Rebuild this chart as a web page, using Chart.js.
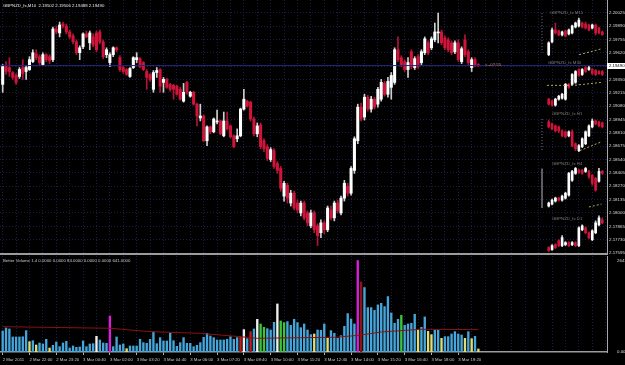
<!DOCTYPE html>
<html>
<head>
<meta charset="utf-8">
<script src="https://cdn.jsdelivr.net/npm/chart.js@4.4.0/dist/chart.umd.min.js"></script>
<style>
html, body { margin: 0; padding: 0; background: #000; }
#wrap { position: relative; width: 625px; height: 365px; overflow: hidden; background: #000; }
canvas { position: absolute; left: 0; }
.t { position: absolute; white-space: nowrap; font: 8.6px "Liberation Sans", Arial, sans-serif; line-height: 10px;
     transform: scale(.5); transform-origin: 0 0; }
.mini { color: #7c7c7c; }
</style>
</head>
<body>
<div id="wrap">
  <canvas id="main" width="625" height="256" style="top:0"></canvas>
  <canvas id="vol" width="625" height="110" style="top:255px"></canvas>

  <div class="t" style="left:3px;top:2.5px;color:#e8e8e8">GBPNZD_fx,M10&nbsp; 2.19502 2.19506 2.19488 2.19490</div>
  <div class="t" style="left:3px;top:257.5px;color:#c8c8c8">Better Volume 1.4 0.0000 0.0000 84.0000 0.0000 0.0000 641.0000</div>

  <div class="t mini" style="left:550px;top:9.5px">GBPNZD_fx M15</div>
  <div class="t mini" style="left:548px;top:59.5px">GBPNZD_fx M30</div>
  <div class="t mini" style="left:552px;top:110.5px">GBPNZD_fx H1</div>
  <div class="t mini" style="left:552px;top:160.5px">GBPNZD_fx H4</div>
  <div class="t mini" style="left:552px;top:215.5px">GBPNZD_fx D1</div>

  <div class="t" style="left:485px;top:61.5px;color:#d8894a">&lt;--07:55</div>
  <div style="position:absolute;left:607px;top:63px;width:18px;height:5.5px;background:#fff"></div>
  <div class="t" style="left:609px;top:63px;color:#000">2.19490</div>
</div>

<script>
// time axis labels, one every 8 bars (M10)
const timeLabels = ['2 Mar 2011', '2 Mar 22:00', '2 Mar 23:20', '3 Mar 00:40', '3 Mar 02:00', '3 Mar 03:20',
    '3 Mar 04:40', '3 Mar 06:00', '3 Mar 07:20', '3 Mar 08:40', '3 Mar 10:00', '3 Mar 11:20',
    '3 Mar 12:40', '3 Mar 14:00', '3 Mar 15:20', '3 Mar 16:40', '3 Mar 18:00', '3 Mar 19:20'];

const priceTicks = [2.20025, 2.19890, 2.19755, 2.19620, 2.19485, 2.19350, 2.19215, 2.19080, 2.18945,
    2.18810, 2.18675, 2.18540, 2.18405, 2.18270, 2.18135, 2.18000, 2.17865, 2.17730, 2.17595];
const volTicks = [0, 2641];
const bidPrice = 2.19490;

// M10 candles: [open, high, low, close]
const m10 = [
  [2.1930,2.1950,2.1922,2.1948],[2.1949,2.1953,2.1940,2.1943],[2.1947,2.1957,2.1938,2.1943],[2.1942,2.1943,2.1935,2.1937],
  [2.1939,2.1941,2.1930,2.1932],[2.1938,2.1947,2.1936,2.1945],[2.1947,2.1955,2.1935,2.1941],[2.1943,2.1949,2.1935,2.1947],
  [2.1945,2.1958,2.1944,2.1955],[2.1953,2.1965,2.1952,2.1962],[2.1961,2.1965,2.1955,2.1957],[2.1958,2.1960,2.1950,2.1952],
  [2.1950,2.1962,2.1949,2.1960],[2.1960,2.1961,2.1953,2.1955],[2.1958,2.1960,2.1951,2.1954],[2.1955,2.1988,2.1953,2.1986],
  [2.1986,2.1989,2.1981,2.1983],[2.1982,2.1993,2.1978,2.1990],[2.1991,2.1993,2.1987,2.1989],[2.1989,2.1991,2.1981,2.1983],
  [2.1983,2.1985,2.1976,2.1978],[2.1979,2.1981,2.1971,2.1973],[2.1973,2.1975,2.1960,2.1962],[2.1962,2.1969,2.1955,2.1967],
  [2.1968,2.1982,2.1966,2.1981],[2.1981,2.1984,2.1977,2.1978],[2.1972,2.1984,2.1965,2.1982],[2.1978,2.1981,2.1968,2.1970],
  [2.1982,2.1984,2.1963,2.1965],[2.1983,2.1985,2.1971,2.1973],[2.1973,2.1975,2.1956,2.1958],[2.1960,2.1967,2.1957,2.1965],
  [2.1952,2.1962,2.1948,2.1960],[2.1960,2.1968,2.1958,2.1967],[2.1967,2.1968,2.1963,2.1965],[2.1957,2.1959,2.1943,2.1945],
  [2.1947,2.1949,2.1941,2.1943],[2.1945,2.1946,2.1939,2.1940],[2.1938,2.1947,2.1937,2.1946],[2.1947,2.1958,2.1946,2.1957],
  [2.1955,2.1962,2.1952,2.1957],[2.1956,2.1957,2.1947,2.1948],[2.1952,2.1953,2.1944,2.1945],[2.1943,2.1945,2.1925,2.1937],
  [2.1940,2.1941,2.1933,2.1935],[2.1925,2.1944,2.1922,2.1942],[2.1942,2.1947,2.1937,2.1944],[2.1945,2.1946,2.1922,2.1928],
  [2.1932,2.1937,2.1922,2.1935],[2.1935,2.1936,2.1926,2.1927],[2.1930,2.1931,2.1923,2.1925],[2.1929,2.1930,2.1915,2.1925],
  [2.1928,2.1929,2.1919,2.1920],[2.1925,2.1927,2.1914,2.1915],[2.1913,2.1931,2.1912,2.1922],[2.1932,2.1933,2.1920,2.1922],
  [2.1918,2.1923,2.1917,2.1922],[2.1922,2.1923,2.1909,2.1910],[2.1910,2.1911,2.1888,2.1898],[2.1896,2.1910,2.1893,2.1898],
  [2.1898,2.1899,2.1872,2.1873],[2.1873,2.1888,2.1868,2.1887],[2.1887,2.1888,2.1880,2.1882],[2.1882,2.1896,2.1881,2.1895],
  [2.1892,2.1904,2.1890,2.1893],[2.1893,2.1894,2.1879,2.1880],[2.1878,2.1902,2.1877,2.1893],[2.1893,2.1902,2.1884,2.1885],
  [2.1888,2.1889,2.1876,2.1877],[2.1878,2.1879,2.1866,2.1867],[2.1875,2.1885,2.1872,2.1878],[2.1878,2.1906,2.1877,2.1905],
  [2.1905,2.1925,2.1904,2.1915],[2.1913,2.1914,2.1907,2.1908],[2.1912,2.1913,2.1893,2.1895],[2.1895,2.1897,2.1878,2.1880],
  [2.1880,2.1891,2.1877,2.1888],[2.1889,2.1891,2.1865,2.1867],[2.1873,2.1875,2.1862,2.1865],[2.1867,2.1869,2.1853,2.1855],
  [2.1854,2.1866,2.1852,2.1864],[2.1863,2.1865,2.1845,2.1847],[2.1850,2.1852,2.1840,2.1843],[2.1845,2.1847,2.1822,2.1825],
  [2.1817,2.1832,2.1812,2.1830],[2.1828,2.1830,2.1810,2.1815],[2.1810,2.1823,2.1807,2.1820],[2.1820,2.1822,2.1803,2.1805],
  [2.1810,2.1813,2.1800,2.1803],[2.1800,2.1812,2.1797,2.1810],[2.1810,2.1812,2.1793,2.1795],[2.1800,2.1802,2.1787,2.1790],
  [2.1787,2.1803,2.1785,2.1800],[2.1800,2.1802,2.1780,2.1783],[2.1787,2.1789,2.1767,2.1777],[2.1780,2.1793,2.1775,2.1790],
  [2.1790,2.1792,2.1779,2.1783],[2.1783,2.1807,2.1781,2.1805],[2.1803,2.1807,2.1793,2.1795],[2.1795,2.1812,2.1792,2.1810],
  [2.1810,2.1813,2.1800,2.1802],[2.1800,2.1817,2.1798,2.1815],[2.1815,2.1833,2.1812,2.1830],[2.1827,2.1830,2.1817,2.1820],
  [2.1820,2.1847,2.1818,2.1845],[2.1843,2.1877,2.1840,2.1875],[2.1873,2.1910,2.1870,2.1907],[2.1907,2.1911,2.1893,2.1895],
  [2.1897,2.1920,2.1894,2.1917],[2.1917,2.1919,2.1903,2.1905],[2.1905,2.1918,2.1902,2.1915],[2.1915,2.1917,2.1905,2.1907],
  [2.1910,2.1927,2.1907,2.1925],[2.1915,2.1935,2.1913,2.1932],[2.1931,2.1933,2.1918,2.1920],[2.1920,2.1937,2.1917,2.1933],
  [2.1927,2.1942,2.1915,2.1939],[2.1932,2.1967,2.1930,2.1965],[2.1965,2.1978,2.1953,2.1955],[2.1957,2.1959,2.1948,2.1950],
  [2.1953,2.1955,2.1943,2.1945],[2.1945,2.1957,2.1937,2.1952],[2.1963,2.1965,2.1946,2.1948],[2.1947,2.1958,2.1945,2.1956],
  [2.1958,2.1960,2.1946,2.1948],[2.1952,2.1965,2.1950,2.1963],[2.1962,2.1978,2.1960,2.1976],[2.1972,2.1974,2.1960,2.1962],
  [2.1967,2.1978,2.1965,2.1976],[2.1975,2.1992,2.1973,2.1983],[2.1982,2.2002,2.1972,2.1983],[2.1983,2.1985,2.1970,2.1972],
  [2.1977,2.1979,2.1965,2.1967],[2.1975,2.1977,2.1963,2.1965],[2.1972,2.1974,2.1960,2.1962],[2.1963,2.1974,2.1961,2.1972],
  [2.1972,2.1975,2.1953,2.1955],[2.1953,2.1968,2.1951,2.1966],[2.1975,2.1980,2.1958,2.1960],[2.1963,2.1965,2.1950,2.1952],
  [2.1947,2.1957,2.1943,2.1955],[2.1955,2.1957,2.1948,2.1950],[2.1950,2.1951,2.1948,2.1949]
];

// Better Volume bars and their colour class
const volume = [
  607,694,665,434,434,434,440,616,298,327, 202,260,231,366,115,193,289,154,260,308,
  115,174,135,145,318,154,231,241,453,347, 260,250,1040,154,434,202,231,96,174,174,
  174,366,270,250,366,578,241,414,318,318, 549,327,164,270,414,250,250,154,193,270,
  424,540,462,414,347,347,347,366,443,366, 414,434,646,385,588,665,944,809,713,674,
  636,857,1387,896,848,877,771,944,848,703, 809,636,501,520,636,626,809,395,617,539,
  395,472,742,1108,954,809,2641,2023,1860,1281, 1281,1204,1358,1406,1310,1600,1127,829,944,1060,
  771,809,829,1089,636,713,1012,597,501,626, 626,395,443,443,520,588,520,491,395,588,
  385,453,87
];
const volKind = ('bbbbbbbbyb' + 'ybbbybbbbb' + 'bbbbbbbbwb' + 'bbmbbbbybb' + 'bbbbbbbbbb' +
                 'bbbbbbbbbb' + 'bbbbbbbbbb' + 'brwbrbwggb' + 'bbwggbbbbb' + 'bbbybbbybb' +
                 'bbbbbbmdbb' + 'bbbbbbbbbg' + 'bbbbybbyyb' + 'bybbbbbbyb' + 'yby').split('');
const volAvgIdx = [0, 32, 44, 59, 73, 76, 89, 99, 104, 107, 113, 125, 142];
const volAvgVal = [731, 685, 587, 539, 425, 395, 414, 424, 462, 491, 578, 655, 645];

// higher timeframe panels on the right (drawn on the main price scale)
const miniStart = 163;
const m15 = [
  [2.1960,2.1973,2.1959,2.1972],[2.1973,2.1987,2.1972,2.1985],[2.1985,2.1992,2.1981,2.1982],[2.1984,2.1985,2.1979,2.1980],
  [2.1980,2.1984,2.1979,2.1983],[2.1984,2.1985,2.1978,2.1979],[2.1981,2.1986,2.1980,2.1985],[2.1982,2.1990,2.1981,2.1989],
  [2.1988,2.1993,2.1987,2.1992],[2.1989,2.1997,2.1988,2.1995],[2.1992,2.1993,2.1987,2.1988],[2.1991,2.1993,2.1986,2.1987],
  [2.1990,2.1991,2.1984,2.1985],[2.1987,2.1991,2.1986,2.1990],[2.1990,2.1991,2.1980,2.1982],[2.1987,2.1988,2.1981,2.1982],
  [2.1983,2.1984,2.1980,2.1980]
];
const m30 = [
  [2.1915,2.1916,2.1909,2.1910],[2.1913,2.1914,2.1908,2.1909],[2.1909,2.1916,2.1908,2.1915],[2.1915,2.1919,2.1914,2.1918],
  [2.1916,2.1921,2.1915,2.1920],[2.1915,2.1931,2.1914,2.1930],[2.1930,2.1931,2.1926,2.1927],[2.1930,2.1941,2.1929,2.1940],
  [2.1932,2.1944,2.1931,2.1943],[2.1945,2.1946,2.1938,2.1939],[2.1940,2.1946,2.1939,2.1945],[2.1947,2.1948,2.1942,2.1943],
  [2.1945,2.1949,2.1944,2.1947],[2.1945,2.1946,2.1940,2.1941],[2.1944,2.1945,2.1939,2.1940],[2.1943,2.1944,2.1940,2.1941],
  [2.1943,2.1944,2.1939,2.1940]
];
const h1 = [
  [2.1892,2.1894,2.1886,2.1887],[2.1890,2.1891,2.1884,2.1885],[2.1888,2.1889,2.1882,2.1883],[2.1887,2.1888,2.1881,2.1883],
  [2.1883,2.1884,2.1877,2.1878],[2.1882,2.1883,2.1876,2.1877],[2.1878,2.1883,2.1877,2.1882],[2.1882,2.1884,2.1867,2.1868],
  [2.1870,2.1871,2.1863,2.1865],[2.1863,2.1869,2.1862,2.1868],[2.1867,2.1876,2.1866,2.1875],[2.1870,2.1883,2.1869,2.1882],
  [2.1878,2.1889,2.1877,2.1888],[2.1887,2.1895,2.1886,2.1893],[2.1893,2.1894,2.1889,2.1890],[2.1892,2.1893,2.1887,2.1888],
  [2.1891,2.1892,2.1886,2.1887]
];
const h4 = [
  [2.1807,2.1811,2.1806,2.1810],[2.1809,2.1814,2.1808,2.1813],[2.1812,2.1816,2.1811,2.1815],[2.1815,2.1816,2.1812,2.1813],
  [2.1813,2.1818,2.1812,2.1817],[2.1815,2.1821,2.1814,2.1820],[2.1818,2.1841,2.1817,2.1840],[2.1833,2.1843,2.1832,2.1842],
  [2.1840,2.1846,2.1839,2.1845],[2.1843,2.1844,2.1840,2.1841],[2.1843,2.1844,2.1839,2.1840],[2.1842,2.1846,2.1841,2.1845],
  [2.1842,2.1843,2.1835,2.1837],[2.1838,2.1839,2.1828,2.1830],[2.1835,2.1836,2.1822,2.1823],[2.1832,2.1845,2.1831,2.1842],
  [2.1842,2.1843,2.1839,2.1840]
];
const d1 = [
  [2.1765,2.1766,2.1761,2.1762],[2.1763,2.1768,2.1762,2.1767],[2.1768,2.1769,2.1764,2.1765],[2.1772,2.1773,2.1766,2.1767],
  [2.1767,2.1777,2.1766,2.1775],[2.1768,2.1771,2.1767,2.1770],[2.1770,2.1771,2.1766,2.1767],[2.1768,2.1771,2.1767,2.1770],
  [2.1770,2.1771,2.1766,2.1767],[2.1767,2.1786,2.1766,2.1785],[2.1783,2.1788,2.1782,2.1787],[2.1785,2.1786,2.1779,2.1780],
  [2.1780,2.1781,2.1774,2.1775],[2.1773,2.1783,2.1772,2.1782],[2.1780,2.1792,2.1779,2.1790],[2.1788,2.1797,2.1787,2.1795],
  [2.1793,2.1795,2.1789,2.1790]
];
const m15Trend = [[172.1, 2.1960], [178.8, 2.1966]];
const m30Trend = [[162.5, 2.1929], [170.5, 2.1929], [178.8, 2.1932]];
const h1Trend = [[172.3, 2.1863], [178.8, 2.1872]];
const h4Trend = [[175, 2.1806], [178.8, 2.1809]];
const m15Range = [[161, 2.2002], [161, 2.1962]];
const h1Range = [[161, 2.1895], [161, 2.1862]];
const h4Range = [[161, 2.1845], [161, 2.1805]];

const GRID = '#1c1c48';
const AXIS = '#a8a8a8';
const BULL = '#ffffff', BEAR = '#d0143a';
const BULL_WICK = '#cfcfcf', BEAR_WICK = '#b0143a';
const VOL_COLORS = { b: '#45a6dc', y: '#e0dc78', w: '#f0f0f0', r: '#c01c1c', d: '#8c1414', g: '#3cc43c', m: '#dc1edc' };

Chart.defaults.font.family = '"Liberation Sans", Arial, sans-serif';

const gridX = [];
for (let v = 0; v <= 180; v += 4) gridX.push(v);

function candleSets(rows, x0, thick) {
    const up = rows.map(r => r[3] >= r[0]);
    return [
        {
            type: 'bar', order: 1, grouped: false, barThickness: thick, minBarLength: 1,
            data: rows.map((r, k) => ({ x: x0 + k, y: [r[0], r[3]] })),
            backgroundColor: up.map(u => u ? BULL : BEAR)
        },
        {
            type: 'bar', order: 2, grouped: false, barThickness: 1,
            data: rows.map((r, k) => ({ x: x0 + k, y: [r[2], r[1]] })),
            backgroundColor: up.map(u => u ? BULL_WICK : BEAR_WICK)
        }
    ];
}

function lineSet(pts, color, dash, width) {
    return {
        type: 'line', order: 0, data: pts.map(p => ({ x: p[0], y: p[1] })),
        borderColor: color, borderWidth: width || 1, borderDash: dash, pointRadius: 0, tension: 0
    };
}

function noPad(s) { s.paddingTop = 0; s.paddingBottom = 0; s.paddingLeft = 0; s.paddingRight = 0; }

new Chart(document.getElementById('main'), {
    type: 'bar',
    data: {
        datasets: [
            lineSet([[-1, bidPrice], [181, bidPrice]], '#24247e', []),
            ...candleSets(m10, 0, 2.4),
            ...candleSets(m15, miniStart, 2),
            ...candleSets(m30, miniStart, 2),
            ...candleSets(h1, miniStart, 2),
            ...candleSets(h4, miniStart, 2),
            ...candleSets(d1, miniStart, 2),
            lineSet(m15Trend, '#b4a45c', [2, 2]),
            lineSet(m30Trend, '#b4a45c', [2, 2]),
            lineSet(h1Trend, '#b4a45c', [2, 2]),
            lineSet(h4Trend, '#b4a45c', [2, 2]),
            lineSet(m15Range, '#777', [1, 2]),
            lineSet(h1Range, '#777', [1, 2]),
            lineSet(h4Range, '#9a9a9a', [], 1.2)
        ]
    },
    options: {
        responsive: false,
        animation: false,
        devicePixelRatio: 1,
        layout: { padding: 0 },
        plugins: { legend: { display: false }, tooltip: { enabled: false } },
        scales: {
            x: {
                type: 'linear', min: -0.8, max: 180.4, offset: false, position: 'bottom',
                afterBuildTicks: s => { s.ticks = gridX.map(v => ({ value: v })); },
                afterFit: s => { s.height = 2; noPad(s); },
                ticks: { display: false },
                grid: { color: GRID, drawTicks: false, offset: false },
                border: { display: true, color: '#9c9c9c', width: 2, dash: [1, 2] }
            },
            y: {
                position: 'right', min: 2.17585, max: 2.20153,
                afterBuildTicks: s => { s.ticks = priceTicks.map(v => ({ value: v })); },
                afterFit: s => { s.width = 18; noPad(s); },
                ticks: { color: '#dcdcdc', font: { size: 4.4 }, padding: 2, callback: v => v.toFixed(5) },
                grid: { color: GRID, drawTicks: false },
                border: { display: true, color: AXIS, width: 1, dash: [1, 2] }
            }
        }
    }
});

new Chart(document.getElementById('vol'), {
    type: 'bar',
    data: {
        datasets: [
            {
                type: 'line', order: 0,
                data: volAvgIdx.map((x, k) => ({ x, y: volAvgVal[k] })),
                borderColor: '#8a1212', borderWidth: 1, pointRadius: 0, tension: 0
            },
            {
                type: 'bar', order: 1, barThickness: 1.7,
                data: volume.map((v, i) => ({ x: i, y: v })),
                backgroundColor: volKind.map(k => VOL_COLORS[k])
            }
        ]
    },
    options: {
        responsive: false,
        animation: false,
        devicePixelRatio: 1,
        layout: { padding: { top: 1 } },
        plugins: { legend: { display: false }, tooltip: { enabled: false } },
        scales: {
            x: {
                type: 'linear', min: -0.8, max: 180.4, offset: false, position: 'bottom',
                afterBuildTicks: s => { s.ticks = gridX.map(v => ({ value: v })); },
                afterFit: s => { s.height = 13; noPad(s); },
                ticks: {
                    autoSkip: false, maxRotation: 0, minRotation: 0, align: 'start', padding: 2,
                    color: '#c8c8c8', font: { size: 4.3 },
                    callback: v => (v % 8 === 0 && v / 8 < timeLabels.length) ? timeLabels[v / 8] : ''
                },
                grid: {
                    color: GRID, offset: false, drawTicks: true, tickLength: 3, tickWidth: 1,
                    tickColor: c => (c.tick && c.tick.value % 8 === 0 && c.tick.value <= 136) ? '#b0b0b0' : 'rgba(0,0,0,0)'
                },
                border: { display: true, color: '#9c9c9c', width: 1.5, dash: [1, 2] }
            },
            y: {
                position: 'right', min: 0, max: 2771,
                afterBuildTicks: s => { s.ticks = volTicks.map(v => ({ value: v })); },
                afterFit: s => { s.width = 18; noPad(s); },
                ticks: { color: '#dcdcdc', font: { size: 4.4 }, padding: 2, callback: v => v === 0 ? '0.00' : v.toFixed(1) },
                grid: { display: false },
                border: { display: true, color: AXIS, width: 1 }
            }
        }
    }
});
</script>
</body>
</html>
